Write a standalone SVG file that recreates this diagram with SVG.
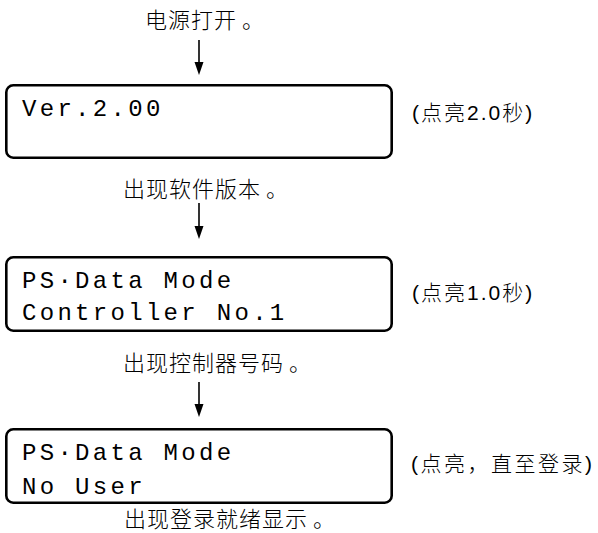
<svg xmlns="http://www.w3.org/2000/svg" width="598" height="533" viewBox="0 0 598 533">
<style>
.box{fill:#fff;stroke:#000;stroke-width:2.6}
.lcd{font-family:"Liberation Mono","DejaVu Sans Mono",monospace;font-size:24px;letter-spacing:3.3px;fill:#000}
.cn{font-family:"Liberation Sans","Noto Sans CJK SC",sans-serif;font-size:22px;font-weight:300;letter-spacing:1px;fill:#000}
.note{font-family:"Liberation Sans","Noto Sans CJK SC",sans-serif;font-size:21px;font-weight:300;letter-spacing:2px;fill:#000}
.conn line{stroke:#000;stroke-width:1.6}
.conn path{fill:#000}
</style>
<rect width="598" height="533" fill="#fff"/>
<g id="conn" class="conn">
<line x1="199" y1="40" x2="199" y2="63"/>
<path d="M194.5,62 L203.5,62 L199,75 Z"/>
<line x1="199" y1="203" x2="199" y2="227"/>
<path d="M194.5,226 L203.5,226 L199,239 Z"/>
<line x1="199" y1="382" x2="199" y2="405"/>
<path d="M194.5,404 L203.5,404 L199,417 Z"/>
</g>
<g id="start">
<text class="cn" x="145" y="28">电源打开<tspan dx="5">。</tspan></text>
</g>
<g id="box1">
<rect class="box" x="6.3" y="85.3" width="385.4" height="72.4" rx="7"/>
<text class="lcd" x="22" y="116">Ver.2.00</text>
<text class="note" x="412" y="120">(点亮2.0秒)</text>
</g>
<g id="label1">
<text class="cn" x="123" y="197">出现软件版本<tspan dx="5">。</tspan></text>
</g>
<g id="box2">
<rect class="box" x="6.3" y="257.3" width="385.4" height="73.4" rx="7"/>
<text class="lcd" x="22" y="288">PS·Data Mode</text>
<text class="lcd" x="22" y="320">Controller No.1</text>
<text class="note" x="412" y="300">(点亮1.0秒)</text>
</g>
<g id="label2">
<text class="cn" x="123" y="371">出现控制器号码<tspan dx="5">。</tspan></text>
</g>
<g id="box3">
<rect class="box" x="6.3" y="429.3" width="385.4" height="73.4" rx="7"/>
<text class="lcd" x="22" y="460">PS·Data Mode</text>
<text class="lcd" x="22" y="494">No User</text>
<text class="note" x="411" y="471" style="letter-spacing:2.5px">(点亮，直至登录)</text>
</g>
<g id="label3">
<text class="cn" x="124" y="527">出现登录就绪显示<tspan dx="5">。</tspan></text>
</g>
</svg>
